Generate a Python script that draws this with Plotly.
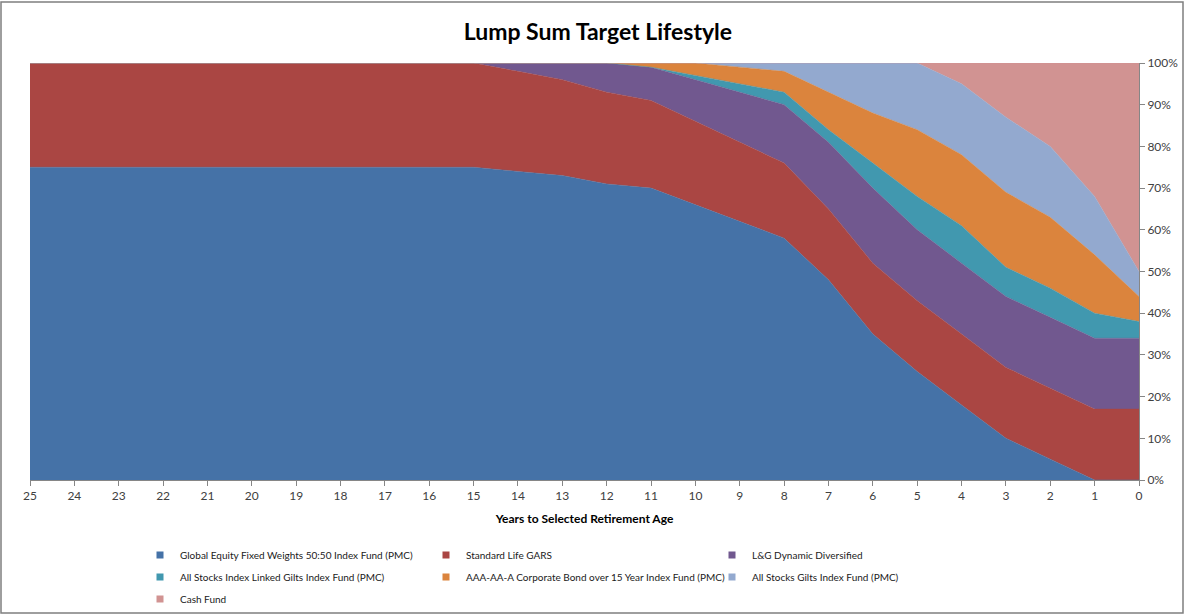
import plotly.graph_objects as go

years = list(range(25, -1, -1))
series_names = [
    "Global Equity Fixed Weights 50:50 Index Fund (PMC)",
    "Standard Life GARS",
    "L&G Dynamic Diversified",
    "All Stocks Index Linked Gilts Index Fund (PMC)",
    "AAA-AA-A Corporate Bond over 15 Year Index Fund (PMC)",
    "All Stocks Gilts Index Fund (PMC)",
    "Cash Fund",
]
#                 25  24  23  22  21  20  19  18  17  16  15  14  13  12  11  10   9   8   7   6   5   4   3   2   1   0
global_equity = [75, 75, 75, 75, 75, 75, 75, 75, 75, 75, 75, 74, 73, 71, 70, 66, 62, 58, 48, 35, 26, 18, 10,  5,  0,  0]
std_life_gars = [25, 25, 25, 25, 25, 25, 25, 25, 25, 25, 25, 24, 23, 22, 21, 20, 19, 18, 17, 17, 17, 17, 17, 17, 17, 17]
lg_dynamic    = [ 0,  0,  0,  0,  0,  0,  0,  0,  0,  0,  0,  2,  4,  7,  8, 10, 12, 14, 16, 18, 17, 17, 17, 17, 17, 17]
index_linked  = [ 0,  0,  0,  0,  0,  0,  0,  0,  0,  0,  0,  0,  0,  0,  0,  1,  2,  3,  3,  6,  8,  9,  7,  7,  6,  4]
corp_bond     = [ 0,  0,  0,  0,  0,  0,  0,  0,  0,  0,  0,  0,  0,  0,  1,  3,  4,  5,  9, 12, 16, 17, 18, 17, 14,  6]
gilts         = [ 0,  0,  0,  0,  0,  0,  0,  0,  0,  0,  0,  0,  0,  0,  0,  0,  1,  2,  7, 12, 16, 17, 18, 17, 14,  6]
cash          = [ 0,  0,  0,  0,  0,  0,  0,  0,  0,  0,  0,  0,  0,  0,  0,  0,  0,  0,  0,  0,  0,  5, 13, 20, 32, 50]

series_values = [global_equity, std_life_gars, lg_dynamic, index_linked, corp_bond, gilts, cash]
colors = ["#4572A7", "#AA4643", "#71588F", "#4198AF", "#DB843D", "#93A9CF", "#D19392"]

W, H = 1184, 614
ML, MR, MT, MB = 30, 45, 63, 134
PW, PH = W - ML - MR, H - MT - MB

def px_x(p):
    return (p - ML) / PW

def px_y(p):
    return (H - MB - p) / PH

legend_ids = ["legend", "legend", "legend", "legend2", "legend2", "legend2", "legend3"]
legend_rows = {"legend": 555, "legend2": 577, "legend3": 599}

fig = go.Figure()
for name, vals, col in zip(series_names, series_values, colors):
    fig.add_trace(go.Scatter(
        x=years, y=vals, name=name, mode="lines",
        stackgroup="one", line=dict(width=0.5, color=col),
        fillcolor=col, showlegend=False, hoverinfo="x+y+name",
    ))
for name, col, lg in zip(series_names, colors, legend_ids):
    fig.add_trace(go.Scatter(
        x=[None], y=[None], name=name, mode="markers",
        marker=dict(symbol="square", size=7, color=col),
        showlegend=True, legend=lg,
    ))

axis_col = "#868686"
text_col = "#404040"

def legend_cfg(row_y):
    return dict(orientation="h", x=px_x(140), xanchor="left",
                y=px_y(row_y), yanchor="middle", traceorder="normal",
                entrywidth=241, entrywidthmode="pixels",
                font=dict(size=10, color="#1a1a1a"),
                tracegroupgap=0, bgcolor="rgba(0,0,0,0)")

fig.update_layout(
    width=W, height=H,
    margin=dict(l=ML, r=MR, t=MT, b=MB, autoexpand=False),
    paper_bgcolor="white", plot_bgcolor="white",
    font=dict(family="Lato, Open Sans, sans-serif", size=11, color=text_col),
    title=dict(text="<b>Lump Sum Target Lifestyle</b>", x=0.505, xanchor="center",
               y=1 - 32 / H, yanchor="middle",
               font=dict(family="Lato, sans-serif", size=23, color="#000000")),
    xaxis=dict(range=[25, 0], tickmode="array", tickvals=years,
               ticktext=[str(y) for y in years],
               ticks="outside", ticklen=5, tickcolor=axis_col,
               showline=True, linecolor=axis_col, linewidth=1,
               showgrid=False, zeroline=False,
               tickfont=dict(size=12, color=text_col),
               title=dict(text="<b>Years to Selected Retirement Age</b>",
                          font=dict(size=12, color="#000000"), standoff=12)),
    yaxis=dict(range=[0, 100], side="right", tickmode="linear", tick0=0, dtick=10,
               ticksuffix="%", ticks="outside", ticklen=5, tickcolor=axis_col,
               showline=True, linecolor=axis_col, linewidth=1,
               showgrid=False, zeroline=False,
               tickfont=dict(size=12, color=text_col)),
    legend=legend_cfg(legend_rows["legend"]),
    legend2=legend_cfg(legend_rows["legend2"]),
    legend3=legend_cfg(legend_rows["legend3"]),
    shapes=[dict(type="rect", xref="paper", yref="paper",
                 x0=px_x(1), x1=px_x(1183), y0=px_y(613), y1=px_y(2),
                 line=dict(color="#7F7F7F", width=1.5), layer="below")],
)

fig.write_html("out.html", config={"displayModeBar": False},
               post_script="document.body.style.margin='0px';")
